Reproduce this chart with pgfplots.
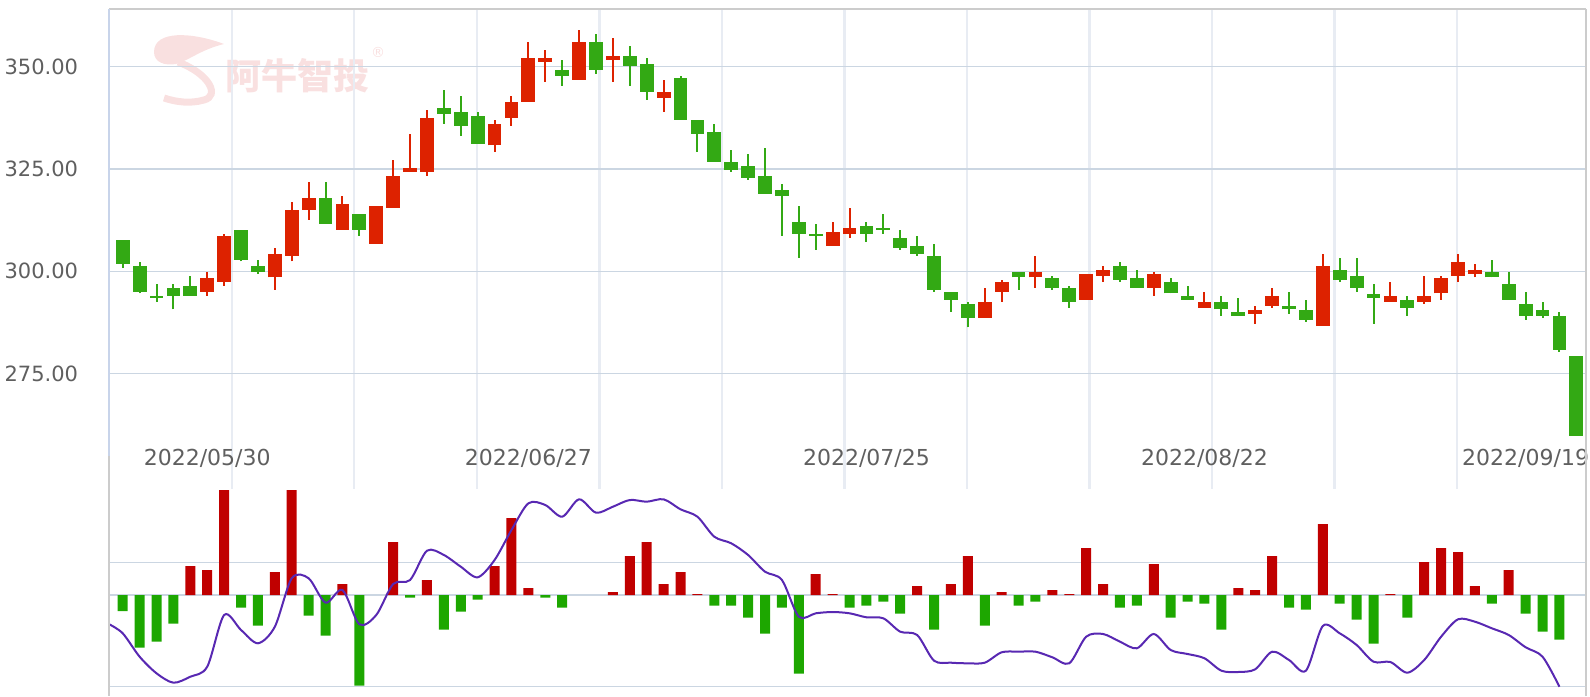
\documentclass[border=0pt]{standalone}
\usepackage{pgfplots}
\usepackage{pgfplotstable}
\pgfplotsset{compat=1.18}
\usepackage{fontspec}
\setmainfont{DejaVu Sans}
\newfontfamily\cjk{Noto Sans CJK SC}
\definecolor{cR}{RGB}{221,34,0}
\definecolor{cG}{RGB}{51,169,20}
\definecolor{bR}{RGB}{192,0,0}
\definecolor{bG}{RGB}{29,167,0}
\definecolor{lineP}{RGB}{88,40,178}
\definecolor{hgrid}{RGB}{203,214,226}
\definecolor{vgrid}{RGB}{232,236,243}
\definecolor{bord}{RGB}{204,204,204}
\definecolor{lblue}{RGB}{200,212,234}
\definecolor{lab}{RGB}{95,95,95}
\definecolor{wm}{RGB}{249,224,224}

% red candles: i L H B(open) T(close)
\pgfplotstableread{
i L H B T
5 294.1 299.8 295.0 298.4
6 296.5 309.1 297.5 308.6
9 295.5 305.7 298.5 304.2
10 302.4 316.9 303.8 315.0
11 312.6 321.8 315.0 317.9
13 310.2 318.4 310.2 316.4
15 306.7 315.9 306.7 315.9
16 315.5 327.2 315.5 323.3
17 324.3 333.5 324.3 325.2
18 323.3 339.3 324.3 337.4
22 329.2 336.9 330.7 335.9
23 335.5 342.8 337.5 341.3
24 341.4 355.9 341.4 352.0
25 346.3 354.0 351.1 352.0
27 346.7 358.9 346.7 355.9
29 346.3 356.9 351.6 352.5
32 338.9 346.7 342.4 343.7
42 306.3 312.0 306.3 309.6
43 308.2 315.4 309.2 310.6
51 288.7 295.9 288.7 292.5
52 292.6 297.9 295.0 297.4
54 296.0 303.7 298.5 299.8
57 293.1 299.3 293.1 299.3
58 297.5 301.3 298.9 300.3
61 294.1 299.8 296.0 299.3
64 291.1 295.0 291.1 292.5
67 287.2 291.5 289.7 290.6
68 291.1 295.9 291.6 294.0
71 286.7 304.2 286.7 301.3
75 292.6 297.4 292.6 294.0
77 292.1 298.9 292.6 294.0
78 293.1 298.9 294.6 298.4
79 297.5 304.2 298.9 302.3
80 298.5 301.8 299.4 300.3
}\redT

% green candles: i L H B(close) T(open)
\pgfplotstableread{
i L H B T
0 300.9 307.6 301.9 307.6
1 294.6 302.3 295.0 301.3
2 292.6 296.9 293.6 294.1
3 290.7 296.9 294.1 295.9
4 294.1 298.9 294.1 296.4
7 302.4 310.1 302.8 310.1
8 299.4 302.8 299.9 301.3
12 311.6 321.8 311.6 317.9
14 308.7 314.0 310.2 314.0
19 336.0 344.2 338.5 339.8
20 333.1 342.8 335.5 338.9
21 331.1 338.9 331.1 337.9
26 345.3 351.5 347.7 349.1
28 348.2 357.9 349.2 355.9
30 345.3 355.0 350.2 352.5
31 341.9 352.0 343.8 350.6
33 337.0 347.6 337.0 347.2
34 329.2 336.9 333.6 336.9
35 326.7 335.9 326.7 334.0
36 324.3 329.6 324.8 326.7
37 322.4 328.6 322.8 325.7
38 318.9 330.1 318.9 323.3
39 308.7 321.3 318.5 319.8
40 303.3 315.9 309.2 312.0
41 305.3 311.5 308.7 309.1
44 307.2 312.0 309.2 311.1
45 309.2 314.0 310.2 310.6
46 305.3 310.1 305.8 308.1
47 303.8 308.6 304.3 306.2
48 295.0 306.7 295.5 303.7
49 290.2 295.0 293.1 295.0
50 286.3 292.5 288.7 292.0
53 295.5 299.8 298.5 299.8
55 295.5 298.9 296.0 298.4
56 291.1 296.4 292.6 295.9
59 297.5 302.3 298.0 301.3
60 296.0 300.3 296.0 298.4
62 294.6 298.4 294.6 297.4
63 293.1 296.4 293.1 294.0
65 289.2 294.0 290.7 292.5
66 289.2 293.5 289.2 290.1
69 289.7 295.0 290.7 291.5
70 287.7 293.0 288.2 290.6
72 297.5 303.3 298.0 300.3
73 295.0 303.3 296.0 298.9
74 287.2 296.9 293.6 294.5
76 289.2 294.0 291.1 293.0
81 298.5 302.8 298.5 299.8
82 293.1 299.8 293.1 296.9
83 288.2 295.0 289.2 292.0
84 288.7 292.5 289.2 290.6
85 280.4 290.1 280.9 289.1
86 259.9 279.3 259.9 279.3
}\greenT

\pgfplotstableread{
i v
4 29
5 25
6 105
9 23
10 105
13 11
16 53
18 15
22 29
23 77
24 7
29 3
30 39
31 53
32 11
33 23
34 1
41 21
42 1
47 9
49 11
50 39
52 3
55 5
56 1
57 47
58 11
61 31
66 7
67 5
68 39
71 71
75 1
77 33
78 47
79 43
80 9
82 25
}\barR

\pgfplotstableread{
i v
0 -16
1 -52.7
2 -46.7
3 -28.7
7 -12.7
8 -30.7
11 -20.7
12 -40.7
14 -90.7
17 -2.7
19 -34.7
20 -16.7
21 -4.7
25 -2.7
26 -12.7
35 -10.7
36 -10.7
37 -22.7
38 -38.7
39 -12.7
40 -78.7
43 -12.7
44 -10.7
45 -6.7
46 -18.7
48 -34.7
51 -30.7
53 -10.7
54 -6.7
59 -12.7
60 -10.7
62 -22.7
63 -6.7
64 -8.7
65 -34.7
69 -12.7
70 -14.7
72 -8.7
73 -24.7
74 -48.7
76 -22.7
81 -8.7
83 -18.7
84 -36.7
85 -44.7
}\barG

\pgfplotstableread{
i v
-0.8 -29.3
0 -38.3
1 -61.7
2 -78.3
3 -87.7
4 -81.7
5 -71.7
6 -20
7 -35
8 -48.3
9 -31.7
10 16.7
11 16.7
12 -7.7
13 5
14 -29.3
15 -20
16 11
17 15
18 44.3
19 40
20 28.3
21 17.7
22 35
23 65
24 91.7
25 90
26 78.3
27 95.7
28 82.3
29 88.3
30 95
31 93.3
32 95.7
33 85.7
34 78.3
35 58.3
36 51.7
37 40
38 23.3
39 15
40 -21.7
41 -18.3
42 -17
43 -18.3
44 -22.3
45 -23.3
46 -36.7
47 -40
48 -65.7
49 -67.7
50 -68.3
51 -67.7
52 -57.3
53 -56.7
54 -56.7
55 -62.3
56 -68.3
57 -41.7
58 -39
59 -46.7
60 -53.3
61 -39
62 -55
63 -59
64 -63.3
65 -75.7
66 -77
67 -74.3
68 -56.7
69 -65
70 -75.7
71 -31
72 -38.3
73 -50
74 -66.7
75 -67
76 -77.7
77 -65
78 -41.7
79 -24.3
80 -26.7
81 -33.3
82 -40
83 -52.3
84 -61.7
85 -91.7
}\lineT

\begin{document}
\begin{tikzpicture}
\path[use as bounding box] (0,0) rectangle (795pt,348pt);
% watermark
\fill[wm] (77pt,322pt) .. controls (77pt,333pt) and (96pt,332pt) .. (112pt,326pt)
  .. controls (100pt,323pt) and (95pt,318pt) .. (88pt,316pt)
  .. controls (82pt,315pt) and (77pt,317pt) .. (77pt,322pt);
\draw[wm, line width=3.5pt] (89pt,317pt) .. controls (105pt,311pt) and (110pt,300pt) .. (102pt,298pt)
  .. controls (95pt,296pt) and (88pt,297pt) .. (82pt,299pt);
\node[text=wm, font=\cjk\fontsize{18}{18}\selectfont\bfseries, inner sep=0pt] at (148.75pt,310.25pt) {阿牛智投};
\node[text=wm, font=\fontsize{7}{7}\selectfont, inner sep=0pt] at (189pt,322pt) {®};

\begin{axis}[
  anchor=south west, at={(54.6pt,103.5pt)},
  width=738.3pt, height=240pt, scale only axis,
  xmin=-0.8, xmax=86.56, ymin=246.9, ymax=364.0,
  clip=false,
  axis line style={draw=none}, major tick length=0pt,
  xtick={6.45,13.7,20.95,28.2,35.45,42.7,49.95,57.2,64.45,71.7,78.95},
  xticklabels={},
  xmajorgrids, x grid style={color=vgrid, line width=1.2pt},
  ytick={275,300,325,350},
  yticklabels={275.00,300.00,325.00,350.00},
  ymajorgrids, y grid style={color=hgrid, line width=0.65pt},
  yticklabel style={anchor=east, inner sep=0pt, xshift=-15.35pt,
    font=\fontsize{10.5}{12}\selectfont, text=lab},
  extra x ticks={5,24,44,64,83},
  extra x tick labels={2022/05/30,2022/06/27,2022/07/25,2022/08/22,2022/09/19},
  extra x tick style={grid=none, xticklabel style={anchor=center, inner sep=0pt,
    yshift=15.5pt, font=\fontsize{11}{12}\selectfont, text=lab}},
]
% wicks
\addplot[draw=none, mark=none, forget plot, error bars/.cd, y dir=plus, y explicit,
  error mark=none, error bar style={draw=cR, line width=1pt}]
  table[x=i, y=L, y error plus expr=\thisrow{H}-\thisrow{L}] {\redT};
\addplot[draw=none, mark=none, forget plot, error bars/.cd, y dir=plus, y explicit,
  error mark=none, error bar style={draw=cG, line width=1pt}]
  table[x=i, y=L, y error plus expr=\thisrow{H}-\thisrow{L}] {\greenT};
% bodies
\addplot[draw=none, mark=none, forget plot, error bars/.cd, y dir=plus, y explicit,
  error mark=none, error bar style={draw=cR, line width=6.9pt}]
  table[x=i, y=B, y error plus expr=\thisrow{T}-\thisrow{B}] {\redT};
\addplot[draw=none, mark=none, forget plot, error bars/.cd, y dir=plus, y explicit,
  error mark=none, error bar style={draw=cG, line width=6.9pt}]
  table[x=i, y=B, y error plus expr=\thisrow{T}-\thisrow{B}] {\greenT};
\draw[bord, line width=1pt] (rel axis cs:0,1) -- (rel axis cs:1,1);
\draw[bord, line width=1pt] (rel axis cs:1,0) -- (rel axis cs:1,1);
\end{axis}

\begin{axis}[
  anchor=south west, at={(54.6pt,0pt)},
  width=738.3pt, height=103.5pt, scale only axis,
  xmin=-0.8, xmax=86.56, ymin=-101, ymax=106,
  clip=false,
  axis line style={draw=none}, major tick length=0pt,
  xtick=\empty,
  ytick={-91.3,0,32.7}, yticklabels={},
  ymajorgrids, y grid style={color=hgrid, line width=0.65pt},
]
\addplot[ybar, bar width=5pt, bar shift=0pt, fill=bR, draw=none] table[x=i, y=v] {\barR};
\addplot[ybar, bar width=5pt, bar shift=0pt, fill=bG, draw=none] table[x=i, y=v] {\barG};
\addplot[smooth, color=lineP, line width=1pt, mark=none] table[x=i, y=v] {\lineT};
\draw[bord, line width=1pt] (rel axis cs:1,0) -- (rel axis cs:1,1);
\end{axis}

\draw[lblue, line width=1pt] (54.6pt,343.5pt) -- (54.6pt,120pt);
\draw[bord, line width=1pt] (54.6pt,120pt) -- (54.6pt,0pt);
\end{tikzpicture}
\end{document}
